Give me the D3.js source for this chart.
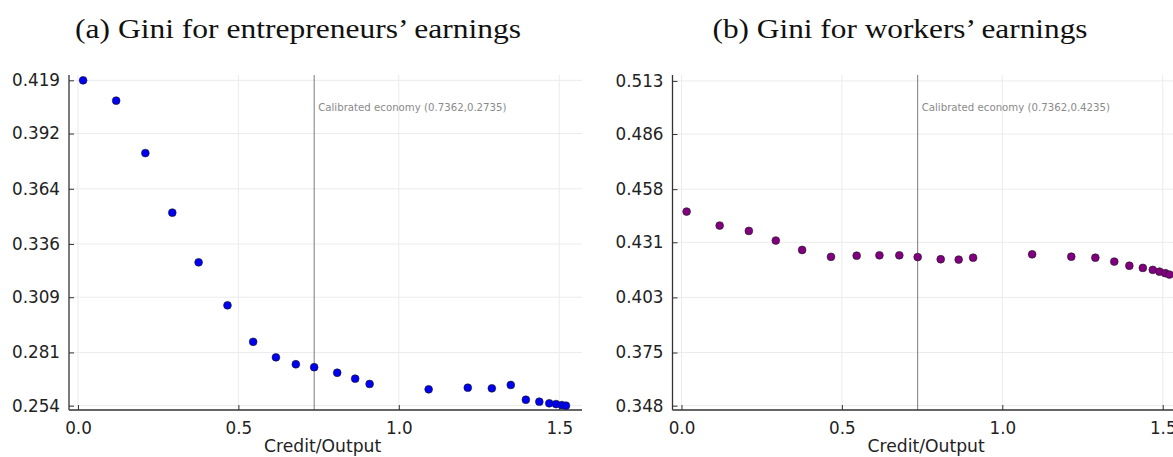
<!DOCTYPE html>
<html>
<head>
<meta charset="utf-8">
<script src="https://cdn.jsdelivr.net/npm/d3@7"></script>
<style>
  html, body { margin: 0; padding: 0; background: #fff; overflow: hidden; }
  svg { display: block; }
</style>
</head>
<body>
<svg id="chart" width="1173" height="457"></svg>
<script>
// ---- Data ----
const creditOutput = [0.016, 0.119, 0.210, 0.294, 0.376, 0.466, 0.546, 0.617, 0.679, 0.7362,
                      0.808, 0.864, 0.909, 1.093, 1.215, 1.290, 1.349, 1.396, 1.438, 1.469,
                      1.490, 1.508, 1.521];
const giniEntrepreneurs = [0.4190, 0.4087, 0.3821, 0.3519, 0.3267, 0.3049, 0.2864, 0.2785, 0.2750, 0.2735,
                           0.2707, 0.2677, 0.2650, 0.2623, 0.2631, 0.2628, 0.2645, 0.2570, 0.2560, 0.2552,
                           0.2548, 0.2543, 0.2540];
const giniWorkers = [0.4466, 0.4395, 0.4368, 0.4319, 0.4271, 0.4236, 0.4242, 0.4244, 0.4244, 0.4235,
                     0.4224, 0.4222, 0.4232, 0.4249, 0.4237, 0.4232, 0.4212, 0.4191, 0.4180, 0.4170,
                     0.4161, 0.4153, 0.4146];
const xTicks = [0.0, 0.5, 1.0, 1.5];
const yTicksA = [0.254, 0.281, 0.309, 0.336, 0.364, 0.392, 0.419];
const yTicksB = [0.348, 0.375, 0.403, 0.431, 0.458, 0.486, 0.513];
const calibratedX = 0.7362;
const titles = ["(a) Gini for entrepreneurs\u2019 earnings", "(b) Gini for workers\u2019 earnings"];
const annotations = ["Calibrated economy (0.7362,0.2735)", "Calibrated economy (0.7362,0.4235)"];
const xLabel = "Credit/Output";

const svg = d3.select("#chart");

function panel(cfg) {
  const { left, top, width, height, ydom, yTicks, ys, color, title, titleX, titleLen, annot } = cfg;
  const g = svg.append("g");
  const x = d3.scaleLinear().domain([-0.028, 1.571]).range([left, left + width]);
  const y = d3.scaleLinear().domain(ydom).range([top + height, top]);

  // grid
  g.append("g").selectAll("line").data(xTicks).join("line")
    .attr("x1", d => x(d)).attr("x2", d => x(d))
    .attr("y1", top).attr("y2", top + height)
    .attr("stroke", "#ebebeb").attr("stroke-width", 1);
  g.append("g").selectAll("line").data(yTicks).join("line")
    .attr("x1", left).attr("x2", left + width)
    .attr("y1", d => y(d)).attr("y2", d => y(d))
    .attr("stroke", "#ebebeb").attr("stroke-width", 1);

  // calibrated line
  g.append("line")
    .attr("x1", x(calibratedX)).attr("x2", x(calibratedX))
    .attr("y1", top).attr("y2", top + height)
    .attr("stroke", "#7a7a7a").attr("stroke-width", 1);
  g.append("text")
    .attr("x", x(calibratedX) + 4).attr("y", top + 36)
    .attr("font-family", "DejaVu Sans").attr("font-size", 10.2)
    .attr("fill", "#8a8a8a").text(annot);

  // axes
  const xAxis = d3.axisBottom(x).tickValues(xTicks).tickFormat(d3.format(".1f"))
    .tickSizeInner(-5).tickSizeOuter(0).tickPadding(12);
  const yAxis = d3.axisLeft(y).tickValues(yTicks).tickFormat(d3.format(".3f"))
    .tickSizeInner(-5).tickSizeOuter(0).tickPadding(9);
  const gx = g.append("g").attr("transform", `translate(0,${top + height})`).call(xAxis);
  const gy = g.append("g").attr("transform", `translate(${left},0)`).call(yAxis);
  [gx, gy].forEach(a => {
    a.select(".domain").attr("stroke", "#333").attr("stroke-width", 1.3);
    a.selectAll(".tick line").attr("stroke", "#333").attr("stroke-width", 1);
    a.selectAll(".tick text").attr("font-family", "DejaVu Sans").attr("font-size", 16.8).attr("fill", "#222");
  });
  gx.select(".domain").attr("d", `M${left},0H${left + width}`);
  gy.select(".domain").attr("d", `M0,${top}V${top + height}`);

  // points
  g.append("g").selectAll("circle").data(creditOutput.map((c, i) => [c, ys[i]])).join("circle")
    .attr("cx", d => x(d[0])).attr("cy", d => y(d[1])).attr("r", 3.9)
    .attr("fill", color).attr("stroke", "#1a1a1a").attr("stroke-width", 0.6);

  // labels
  g.append("text").attr("x", x(0.7625)).attr("y", 452)
    .attr("text-anchor", "middle").attr("font-family", "DejaVu Sans").attr("font-size", 17.2)
    .attr("fill", "#222").text(xLabel);
  g.append("text").attr("x", titleX).attr("y", 38)
    .attr("text-anchor", "middle").attr("font-family", "Liberation Serif").attr("font-size", 28)
    .attr("textLength", titleLen).attr("lengthAdjust", "spacingAndGlyphs")
    .attr("fill", "#111").text(title);
}

panel({ left: 69, top: 75, width: 513, height: 335, ydom: [0.2518, 0.4217], yTicks: yTicksA,
        ys: giniEntrepreneurs, color: "#0000f0", title: titles[0], titleX: 298, titleLen: 446, annot: annotations[0] });
panel({ left: 672.5, top: 75, width: 513, height: 335, ydom: [0.3458, 0.5160], yTicks: yTicksB,
        ys: giniWorkers, color: "#800080", title: titles[1], titleX: 900, titleLen: 375, annot: annotations[1] });
</script>
</body>
</html>
